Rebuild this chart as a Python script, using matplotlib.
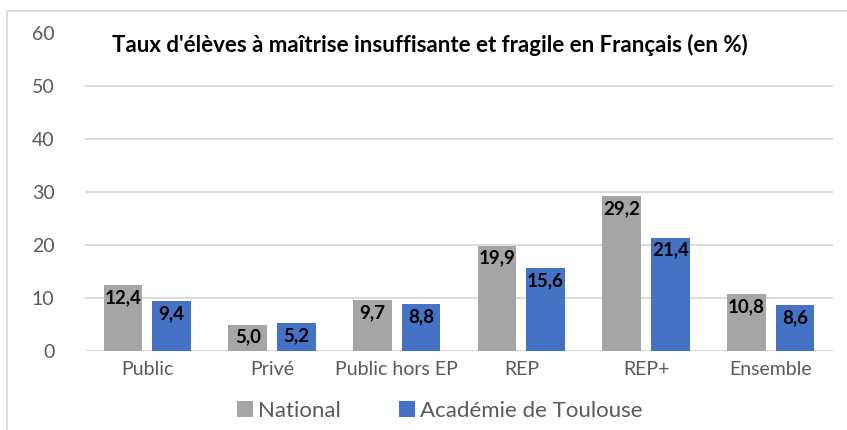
import matplotlib.pyplot as plt
import numpy as np
from matplotlib.lines import Line2D

categories = ["Public", "Privé", "Public hors EP", "REP", "REP+", "Ensemble"]
national = [12.4, 5.0, 9.7, 19.9, 29.2, 10.8]
toulouse = [9.4, 5.2, 8.8, 15.6, 21.4, 8.6]
series_names = ["National", "Académie de Toulouse"]
title = "Taux d'élèves à maîtrise insuffisante et fragile en Français (en %)"

plt.rcParams['font.family'] = ['Lato', 'DejaVu Sans']

fig = plt.figure(figsize=(8.47, 4.30), dpi=100)
ax = fig.add_axes([85 / 847, 1 - 351 / 430, 748 / 847, 318 / 430])

x = np.arange(len(categories))
w = 0.31
off = 0.195
b1 = ax.bar(x - off, national, w, color="#A5A5A5", label=series_names[0], zorder=3)
b2 = ax.bar(x + off, toulouse, w, color="#4472C4", label=series_names[1], zorder=3)

for bars in (b1, b2):
    for rect in bars:
        h = rect.get_height()
        ax.annotate(f"{h:.1f}".replace(".", ","),
                    (rect.get_x() + rect.get_width() / 2, h),
                    xytext=(0, -3), textcoords="offset points",
                    ha="center", va="top", fontsize=13.5, fontweight="bold",
                    color="black", zorder=4)

ax.set_xlim(-0.5, len(categories) - 0.5)
ax.set_ylim(0, 60)
ax.set_yticks(range(0, 61, 10))
ax.set_xticks(x)
ax.set_xticklabels(categories)
ax.tick_params(axis="both", length=0, labelsize=14, colors="#595959")
ax.tick_params(axis="y", pad=22)
ax.tick_params(axis="x", pad=7)
ax.yaxis.grid(True, color="#D9D9D9", linewidth=1.3, zorder=0)
ax.set_axisbelow(True)
for s in ax.spines.values():
    s.set_visible(False)
ax.axhline(0, color="#D9D9D9", linewidth=1.3, zorder=2)
# the title box hides the top gridline
ax.yaxis.get_gridlines()[-1].set_visible(False)

fig.text(430 / 847, 1 - 45 / 430, title, ha="center", va="center",
         fontsize=16, fontweight="bold", color="black")

leg = fig.legend(loc="center", bbox_to_anchor=(440 / 847, 1 - 411 / 430),
                 ncol=2, frameon=False, fontsize=16, handlelength=0.7,
                 handleheight=0.7, handletextpad=0.25, columnspacing=2.6,
                 labelcolor="#595959")

# outer chart frame (left and top edges visible)
fig.add_artist(Line2D([7 / 847, 7 / 847], [0, 1 - 11 / 430],
                      transform=fig.transFigure, color="#D9D9D9", linewidth=1.3))
fig.add_artist(Line2D([7 / 847, 1], [1 - 11 / 430, 1 - 11 / 430],
                      transform=fig.transFigure, color="#D9D9D9", linewidth=1.3))

fig.savefig("out.png", dpi=100)
